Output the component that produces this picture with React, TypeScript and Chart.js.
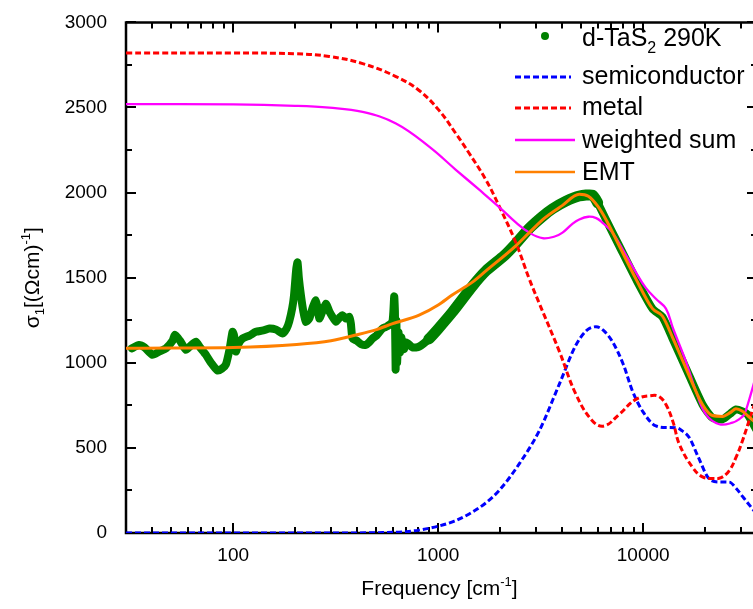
import React, { useEffect, useRef } from 'react';
import { Chart, registerables } from 'chart.js';

Chart.register(...registerables);

// ---------- data (frequency in cm^-1, sigma_1 in (Ohm cm)^-1) ----------
const measuredFreq = [
  32, 34.7, 37, 40.4, 43.5, 47, 50.6, 52, 55, 58.8, 62, 65.8, 69, 73.6, 78, 83.8, 88, 92.1, 96, 99.3,
  101, 103, 106, 111, 120, 129, 140, 150, 162, 174, 182, 187.5, 194, 198, 203, 206, 209, 214, 220, 226,
  235, 245, 253, 258, 263, 270, 283, 295, 305, 317, 330, 341, 355, 368, 375, 382, 400, 420, 444, 460,
  478, 500, 535, 565, 598, 610, 615, 620, 625, 630, 640, 650, 660, 680, 700, 750, 807, 900, 1000, 1175,
  1468, 1709, 2100, 2390, 2780, 3227, 3612, 4200, 4875, 5660, 6000, 6580, 7640, 9210, 11100, 12400, 13900,
  16150, 19460, 21770, 24380, 26500, 28330, 30500, 32270, 35900,
];
const measuredSigma = [
  1085, 1105, 1090, 1047, 1066, 1085, 1130, 1165, 1130, 1076, 1100, 1124, 1090, 1047, 1000, 955, 965, 990, 1080, 1182,
  1160, 1066, 1110, 1143, 1160, 1182, 1190, 1202, 1195, 1172, 1200, 1241, 1320, 1396, 1550, 1590, 1500, 1396, 1300, 1241,
  1260, 1330, 1367, 1320, 1260, 1290, 1347, 1300, 1270, 1241, 1265, 1280, 1260, 1270, 1230, 1143, 1130, 1110, 1105, 1120,
  1143, 1160, 1202, 1215, 1241, 1390, 1300, 960, 1250, 1000, 1180, 1060, 1150, 1080, 1120, 1090, 1095, 1140, 1200, 1299,
  1450, 1540, 1630, 1700, 1790, 1860, 1905, 1950, 1980, 1985, 1940, 1842, 1687, 1493, 1318, 1270, 1143,
  969, 755, 677, 668, 700, 726, 715, 697, 600,
];

const semiFreq = [
  30, 300, 515, 700, 807, 1000, 1200, 1416, 1700, 1984, 2484, 3110, 3890, 4700, 5300, 5880, 6400, 7080,
  8000, 8870, 10000, 11530, 13000, 14440, 15500, 16770, 18500, 21000, 23500, 26300, 28500, 30500, 34000, 35900,
];
const semiSigma = [
  0, 0, 2, 8, 17, 40, 70, 112, 175, 250, 406, 600, 872, 1105, 1190, 1212, 1190, 1124,
  990, 833, 710, 629, 620, 619, 600, 561, 450, 318, 300, 299, 260, 215, 144, 110,
];

const metalFreq = [
  30, 100, 200, 294, 428, 622, 807, 1010, 1219, 1416, 1709, 1984, 2390, 2780, 3110, 3890, 4700, 5660,
  6450, 7640, 9210, 11100, 12000, 12910, 14000, 15000, 17400, 19460, 21770, 24000, 26300, 28500, 30500, 34000, 35900,
];
const metalSigma = [
  2820, 2820, 2816, 2800, 2758, 2682, 2600, 2483, 2347, 2231, 2075, 1920, 1707, 1493, 1350, 1070, 814, 658,
  629, 697, 785, 808, 800, 755, 650, 522, 386, 330, 320, 325, 367, 450, 542, 716, 800,
];

const sumFreq = [
  30, 100, 200, 294, 428, 622, 903, 1219, 1585, 1984, 2390, 2780, 3227, 3700, 4040, 4500, 4875, 5400, 5900,
  6300, 7080, 8000, 9210, 10300, 11530, 12910, 14000, 16150, 18000, 20230, 23500, 27270,
  29500, 31100, 33000, 34500, 35900,
];
const sumSigma = [
  2520, 2518, 2510, 2499, 2474, 2406, 2270, 2134, 2017, 1915, 1825, 1765, 1732, 1742, 1765, 1815, 1842, 1858, 1850,
  1825, 1765, 1660, 1532, 1440, 1376, 1318, 1200, 1008, 840, 697, 639, 648,
  670, 697, 790, 870, 950,
];

const emtFreq = [
  30, 50, 100, 204, 300, 396, 500, 600, 807, 1000, 1175, 1468, 1709, 2390, 2780, 3300, 4040, 4875, 5400, 6000, 6580,
  7640, 9210, 11100, 12400, 13900, 16150, 19460, 21770, 24380, 26800, 28330, 30500, 32270, 35900,
];
const emtSigma = [
  1085, 1087, 1090, 1108, 1130, 1163, 1195, 1230, 1280, 1340, 1400, 1474, 1540, 1687, 1765, 1850, 1925, 1990, 1978, 1920, 1842,
  1687, 1493, 1318, 1275, 1150, 969, 755, 690, 685, 710, 730, 715, 690, 640,
];

const xMin = 30;
const xMax = 35900;
const xTickLabels = [100, 1000, 10000];
const yMin = 0;
const yMax = 3000;
const yStep = 500;

const FONT = '"Liberation Sans", Arial, sans-serif';

type Part = { t: string; size: number; dy: number };

function partsWidth(ctx: CanvasRenderingContext2D, parts: Part[]) {
  let w = 0;
  for (const p of parts) {
    ctx.font = `${p.size}px ${FONT}`;
    w += ctx.measureText(p.t).width;
  }
  return w;
}

function drawParts(ctx: CanvasRenderingContext2D, parts: Part[], x: number, baseline: number) {
  let cx = x;
  ctx.textBaseline = 'alphabetic';
  ctx.textAlign = 'left';
  for (const p of parts) {
    ctx.font = `${p.size}px ${FONT}`;
    ctx.fillText(p.t, cx, baseline + p.dy);
    cx += ctx.measureText(p.t).width;
  }
}

const decorPlugin = {
  id: 'decor',
  beforeDatasetsDraw(chart: any) {
    const { ctx, chartArea, scales } = chart;
    const { left, right, top, bottom } = chartArea;
    const x = scales.x;
    const y = scales.y;
    ctx.save();
    ctx.strokeStyle = '#000';
    ctx.lineWidth = 2.5;
    ctx.beginPath();
    ctx.moveTo(left, top);
    ctx.lineTo(right, top);
    ctx.lineTo(right, bottom);
    ctx.lineTo(left, bottom);
    ctx.closePath();
    ctx.stroke();
    ctx.lineWidth = 2;
    ctx.beginPath();
    for (let d = 1; d <= 4; d++) {
      for (let m = 1; m <= 9; m++) {
        const v = m * Math.pow(10, d);
        if (v <= xMin || v >= xMax) continue;
        const px = Math.round(x.getPixelForValue(v));
        const len = m === 1 ? 10 : 6;
        ctx.moveTo(px, bottom);
        ctx.lineTo(px, bottom - len);
        ctx.moveTo(px, top);
        ctx.lineTo(px, top + len);
      }
    }
    for (let v = yMin; v <= yMax; v += yStep / 2) {
      const py = Math.round(y.getPixelForValue(v));
      const len = v % yStep === 0 ? 10 : 6;
      ctx.moveTo(left, py);
      ctx.lineTo(left + len, py);
      ctx.moveTo(right, py);
      ctx.lineTo(right - len, py);
    }
    ctx.stroke();
    ctx.restore();
  },
  afterDraw(chart: any) {
    const { ctx, chartArea } = chart;
    ctx.save();
    ctx.fillStyle = '#000';
    // x title
    const xt: Part[] = [
      { t: 'Frequency [cm', size: 21, dy: 0 },
      { t: '-1', size: 13, dy: -9 },
      { t: ']', size: 21, dy: 0 },
    ];
    const cxTitle = (chartArea.left + 753) / 2;
    drawParts(ctx, xt, cxTitle - partsWidth(ctx, xt) / 2, 595);
    // y title
    const yt: Part[] = [
      { t: 'σ', size: 21, dy: 0 },
      { t: '1', size: 13, dy: 5 },
      { t: '[(Ωcm)', size: 21, dy: 0 },
      { t: '-1', size: 13, dy: -9 },
      { t: ']', size: 21, dy: 0 },
    ];
    ctx.save();
    ctx.translate(39, (chartArea.top + chartArea.bottom) / 2);
    ctx.rotate(-Math.PI / 2);
    drawParts(ctx, yt, -partsWidth(ctx, yt) / 2, 0);
    ctx.restore();

    // legend
    const tx = 582;
    const lx0 = 515;
    ctx.fillStyle = '#008000';
    ctx.beginPath();
    ctx.arc(545, 36, 4, 0, Math.PI * 2);
    ctx.fill();
    ctx.fillStyle = '#000';
    drawParts(ctx, [
      { t: 'd-TaS', size: 25, dy: 0 },
      { t: '2', size: 16, dy: 7 },
      { t: ' 290K', size: 25, dy: 0 },
    ], tx, 46);
    const entries = [
      { label: 'semiconductor', color: '#0000ff', dash: [6, 3], ly: 77, by: 84, x1: 571 },
      { label: 'metal', color: '#ff0000', dash: [6, 3], ly: 108, by: 115, x1: 571 },
      { label: 'weighted sum', color: '#ff00ff', dash: [], ly: 140, by: 148, x1: 575 },
      { label: 'EMT', color: '#ff8000', dash: [], ly: 172, by: 180, x1: 575 },
    ];
    for (const e of entries) {
      ctx.strokeStyle = e.color;
      ctx.lineWidth = e.dash.length ? 3 : 2.5;
      ctx.setLineDash(e.dash);
      ctx.beginPath();
      ctx.moveTo(lx0, e.ly);
      ctx.lineTo(e.x1, e.ly);
      ctx.stroke();
      ctx.setLineDash([]);
      drawParts(ctx, [{ t: e.label, size: 25, dy: 0 }], tx, e.by);
    }
    ctx.restore();
  },
};

function toPts(xs: number[], ys: number[]) {
  return xs.map((v, i) => ({ x: v, y: ys[i] }));
}

export default function App() {
  const ref = useRef<HTMLCanvasElement | null>(null);
  useEffect(() => {
    if (!ref.current) return;
    const chart = new Chart(ref.current, {
      type: 'line',
      data: {
        datasets: [
          {
            label: 'EMT',
            data: toPts(emtFreq, emtSigma),
            borderColor: '#ff8000',
            borderWidth: 3,
            pointRadius: 0,
            cubicInterpolationMode: 'monotone',
            order: 1,
          },
          {
            label: 'weighted sum',
            data: toPts(sumFreq, sumSigma),
            borderColor: '#ff00ff',
            borderWidth: 2.3,
            pointRadius: 0,
            tension: 0.4,
            order: 2,
          },
          {
            label: 'metal',
            data: toPts(metalFreq, metalSigma),
            borderColor: '#ff0000',
            borderWidth: 3,
            borderDash: [6, 3],
            pointRadius: 0,
            tension: 0.4,
            order: 3,
          },
          {
            label: 'semiconductor',
            data: toPts(semiFreq, semiSigma),
            borderColor: '#0000ff',
            borderWidth: 3,
            borderDash: [6, 3],
            pointRadius: 0,
            cubicInterpolationMode: 'monotone',
            order: 4,
          },
          {
            label: 'd-TaS2 290K',
            data: toPts(measuredFreq, measuredSigma),
            borderColor: '#008000',
            borderWidth: 8,
            borderCapStyle: 'round',
            borderJoinStyle: 'round',
            pointRadius: 0,
            tension: 0.2,
            segment: {
              borderWidth: (c: any) => {
                const xv = c.p0.parsed.x;
                return xv >= 900 && xv < 6000 ? 11 : 8;
              },
            },
            order: 5,
          },
        ],
      },
      options: {
        responsive: false,
        animation: false,
        devicePixelRatio: 1,
        layout: { padding: { top: 18, right: 1, left: 0, bottom: 0 } },
        plugins: { legend: { display: false }, tooltip: { enabled: false } },
        scales: {
          x: {
            type: 'logarithmic',
            min: xMin,
            max: xMax,
            grid: { display: false },
            border: { display: false },
            afterBuildTicks: (s: any) => {
              s.ticks = xTickLabels.map((v) => ({ value: v }));
            },
            afterFit: (s: any) => {
              s.height = 76;
            },
            ticks: {
              autoSkip: false,
              maxRotation: 0,
              padding: 3,
              color: '#000',
              font: { family: FONT, size: 19 },
              callback: (v: any) => String(v),
            },
          },
          y: {
            type: 'linear',
            min: yMin,
            max: yMax,
            grid: { display: false },
            border: { display: false },
            afterFit: (s: any) => {
              s.width = 126;
            },
            ticks: {
              stepSize: yStep,
              padding: 11,
              color: '#000',
              font: { family: FONT, size: 19 },
              callback: (v: any) => String(v),
            },
          },
        },
      },
      plugins: [decorPlugin],
    } as any);
    return () => chart.destroy();
  }, []);
  return (
    <div style={{ position: 'fixed', left: 0, top: 0, width: 753, height: 609, overflow: 'hidden', background: '#fff' }}>
      <canvas ref={ref} width={758} height={609} style={{ display: 'block', width: 758, height: 609 }} />
    </div>
  );
}
